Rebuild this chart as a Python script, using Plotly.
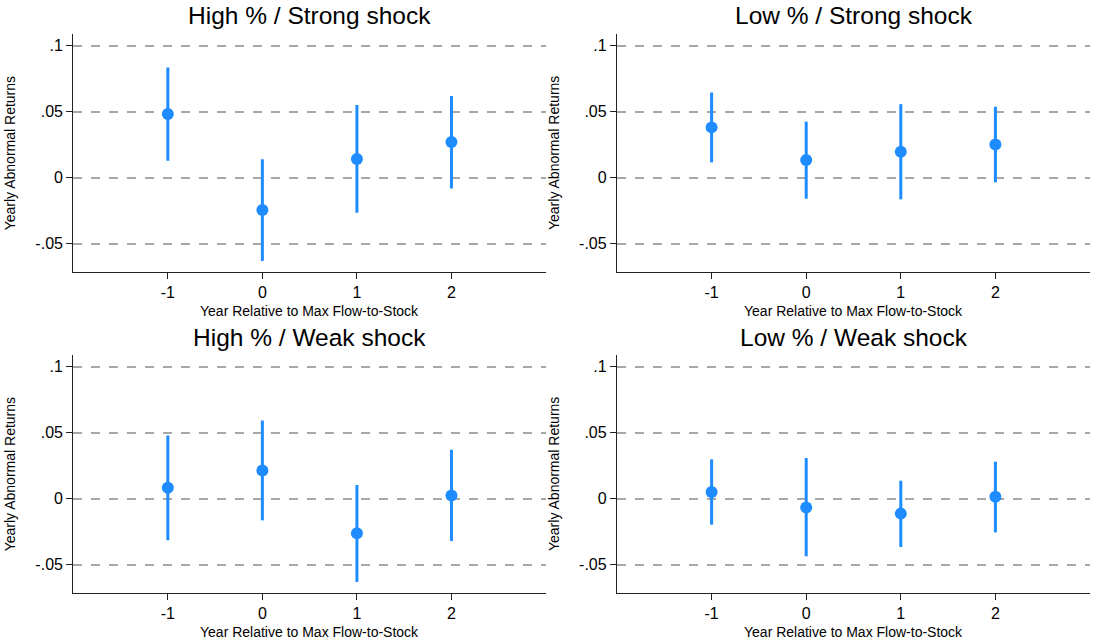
import plotly.graph_objects as go

years = [-1, 0, 1, 2]
titles = ["High % / Strong shock", "Low % / Strong shock",
          "High % / Weak shock", "Low % / Weak shock"]

hs_est = [0.0482, -0.0245, 0.0141, 0.0270]
hs_hi = [0.0835, 0.0139, 0.0550, 0.0618]
hs_lo = [0.0129, -0.0630, -0.0265, -0.0081]

ls_est = [0.0381, 0.0134, 0.0197, 0.0252]
ls_hi = [0.0645, 0.0424, 0.0557, 0.0537]
ls_lo = [0.0116, -0.0159, -0.0164, -0.0035]

hw_est = [0.0083, 0.0214, -0.0262, 0.0025]
hw_hi = [0.0479, 0.0593, 0.0103, 0.0371]
hw_lo = [-0.0315, -0.0164, -0.0630, -0.0320]

lw_est = [0.0050, -0.0066, -0.0113, 0.0015]
lw_hi = [0.0298, 0.0308, 0.0136, 0.0280]
lw_lo = [-0.0197, -0.0436, -0.0366, -0.0255]

ytick_vals = [-0.05, 0, 0.05, 0.1]
ytick_text = ["-.05", "0", ".05", ".1"]
xtick_vals = [-1, 0, 1, 2]
xtick_text = ["-1", "0", "1", "2"]

series = [(hs_est, hs_hi, hs_lo), (ls_est, ls_hi, ls_lo),
          (hw_est, hw_hi, hw_lo), (lw_est, lw_hi, lw_lo)]

W, H = 1093, 643


def px_x(v):
    return v / W


def px_y(v):
    return 1 - v / H


xdoms = [[px_x(73.3), px_x(546)], [px_x(617), px_x(1090)]]
ydoms = [[px_y(272), px_y(34)], [px_y(593), px_y(355)]]

BLUE = "#1e8cff"
FONT = "Liberation Sans, Arial, sans-serif"

fig = go.Figure()
layout = dict(
    width=W, height=H,
    margin=dict(l=0, r=0, t=0, b=0),
    paper_bgcolor="white", plot_bgcolor="white",
    showlegend=False,
    font=dict(family=FONT, color="black"),
)
annotations = []

for i, (est, hi, lo) in enumerate(series):
    row, col = divmod(i, 2)
    n = i + 1
    xa = "x" if n == 1 else f"x{n}"
    ya = "y" if n == 1 else f"y{n}"
    plus = [h - e for h, e in zip(hi, est)]
    minus = [e - l for e, l in zip(est, lo)]
    fig.add_trace(go.Scatter(
        x=years, y=est, mode="markers", xaxis=xa, yaxis=ya,
        marker=dict(color=BLUE, size=12, line=dict(width=0)),
        error_y=dict(type="data", symmetric=False, array=plus, arrayminus=minus,
                     color=BLUE, thickness=3, width=0),
    ))
    xkey = "xaxis" if n == 1 else f"xaxis{n}"
    ykey = "yaxis" if n == 1 else f"yaxis{n}"
    layout[xkey] = dict(
        domain=xdoms[col], anchor=ya, range=[-2, 3],
        tickmode="array", tickvals=xtick_vals, ticktext=xtick_text,
        ticks="outside", ticklen=6, tickwidth=1.2, tickcolor="#222",
        showline=True, linecolor="#222", linewidth=1.3,
        showgrid=False, zeroline=False,
        tickfont=dict(size=16, family=FONT, color="black"),
    )
    layout[ykey] = dict(
        domain=ydoms[row], anchor=xa, range=[-0.0714, 0.1088],
        tickmode="array", tickvals=ytick_vals, ticktext=ytick_text,
        ticks="outside", ticklen=6, tickwidth=1.2, tickcolor="#222",
        showline=True, linecolor="#222", linewidth=1.3,
        showgrid=True, gridcolor="#a8a8a8", gridwidth=1.5, griddash="dash",
        zeroline=False,
        tickfont=dict(size=16, family=FONT, color="black"),
    )
    xmid = (xdoms[col][0] + xdoms[col][1]) / 2
    ytop = ydoms[row][1]
    ybot = ydoms[row][0]
    annotations.append(dict(
        text=titles[i], x=xmid, y=ytop + 18 / H, xref="paper", yref="paper",
        xanchor="center", yanchor="middle", showarrow=False,
        font=dict(size=24.5, family=FONT, color="black"),
    ))
    annotations.append(dict(
        text="Year Relative to Max Flow-to-Stock", x=xmid, y=ybot - 39 / H,
        xref="paper", yref="paper", xanchor="center", yanchor="middle",
        showarrow=False, font=dict(size=14, family=FONT, color="black"),
    ))
    annotations.append(dict(
        text="Yearly Abnormal Returns", x=xdoms[col][0] - 63 / W,
        y=(ydoms[row][0] + ydoms[row][1]) / 2, xref="paper", yref="paper",
        xanchor="center", yanchor="middle", textangle=-90, showarrow=False,
        font=dict(size=14, family=FONT, color="black"),
    ))

layout["annotations"] = annotations
fig.update_layout(**layout)
fig.write_html(
    "out.html",
    config={"displayModeBar": False},
    post_script="document.body.style.margin='0px';document.body.style.overflow='hidden';",
)
